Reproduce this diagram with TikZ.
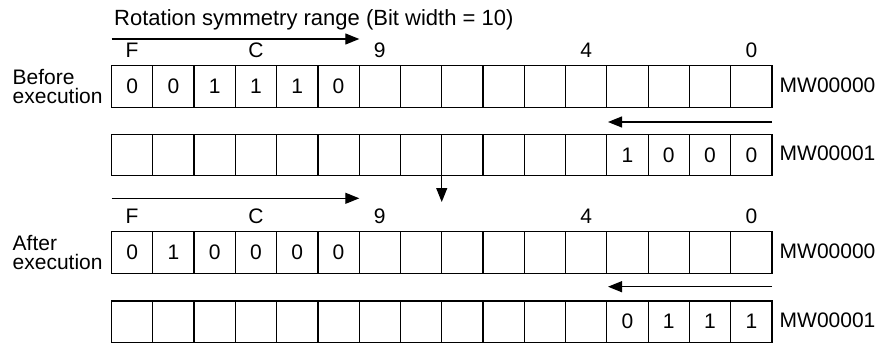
\documentclass[tikz,border=0pt]{standalone}
\usepackage{fontspec}
\setmainfont{Liberation Sans}
\usetikzlibrary{arrows.meta}
\begin{document}
\begin{tikzpicture}[x=1pt,y=-1pt,
  cell/.style={minimum width=41.28pt, minimum height=41.4pt, inner sep=0pt, outer sep=0pt, font=\fontsize{21}{19.4}\selectfont},
  grid/.style={line width=1.2pt},
  lbl/.style={font=\fontsize{21}{19.4}\selectfont, inner sep=0pt},
  arr/.style={line width=1.2pt, -{Triangle[length=14pt,width=11pt]}}]
\useasboundingbox (0,0) rectangle (885,343);
\node[lbl, anchor=base west] (title) at (114,25.7) {\fontsize{22}{24}\selectfont Rotation symmetry range (Bit width = 10)};
% rows
\foreach \v [count=\i] in {0,0,1,1,1,0,{},{},{},{},{},{},{},{},{},{}}
  \node[cell] (a\i) at ({111.5+(\i-0.5)*41.28},86.5) {\v};
\foreach \v [count=\i] in {{},{},{},{},{},{},{},{},{},{},{},{},1,0,0,0}
  \node[cell] (b\i) at ({111.5+(\i-0.5)*41.28},155) {\v};
\foreach \v [count=\i] in {0,1,0,0,0,0,{},{},{},{},{},{},{},{},{},{}}
  \node[cell] (c\i) at ({111.5+(\i-0.5)*41.28},252.5) {\v};
\foreach \v [count=\i] in {{},{},{},{},{},{},{},{},{},{},{},{},0,1,1,1}
  \node[cell] (d\i) at ({111.5+(\i-0.5)*41.28},321.6) {\v};
% grid lines
\foreach \r in {a,b,c,d}{
  \draw[grid] (\r1.north west) rectangle (\r16.south east);
  \foreach \i in {1,...,15}
    \draw[grid] (\r\i.north east) -- (\r\i.south east);
}
% bit labels
\foreach \t/\i in {F/1,C/4,9/7,4/12,0/16}{
  \node[lbl, anchor=base] (ta\i) at ({111.5+(\i-0.5)*41.28},57.3) {\t};
  \node[lbl, anchor=base] (tb\i) at ({111.5+(\i-0.5)*41.28},223.3) {\t};
}
% arrows
\coordinate (r1s) at (111.5,39);
\coordinate (r1e) at (359.3,39);
\draw[arr] (r1s) -- (r1e);
\coordinate (r2s) at (111.5,198.3);
\coordinate (r2e) at (359.3,198.3);
\draw[arr] (r2s) -- (r2e);
\coordinate (l1s) at (772,122);
\coordinate (l1e) at (608,122);
\draw[arr] (l1s) -- (l1e);
\coordinate (l2s) at (772,286.7);
\coordinate (l2e) at (608,286.7);
\draw[arr] (l2s) -- (l2e);
\coordinate (dn) at (b8.south east |- 0,202);
\draw[arr] (b8.south east) -- (dn);
% side labels
\node[lbl, anchor=west, align=left] (bef) at (12.5,86.5) {Before\\execution};
\node[lbl, anchor=west, align=left] (aft) at (12.5,252.5) {After\\execution};
\node[lbl, anchor=west] (m1) at (779.5,85.5) {MW00000};
\node[lbl, anchor=west] (m2) at (779.5,153.5) {MW00001};
\node[lbl, anchor=west] (m3) at (779.5,251.5) {MW00000};
\node[lbl, anchor=west] (m4) at (779.5,320.5) {MW00001};
\end{tikzpicture}
\end{document}
